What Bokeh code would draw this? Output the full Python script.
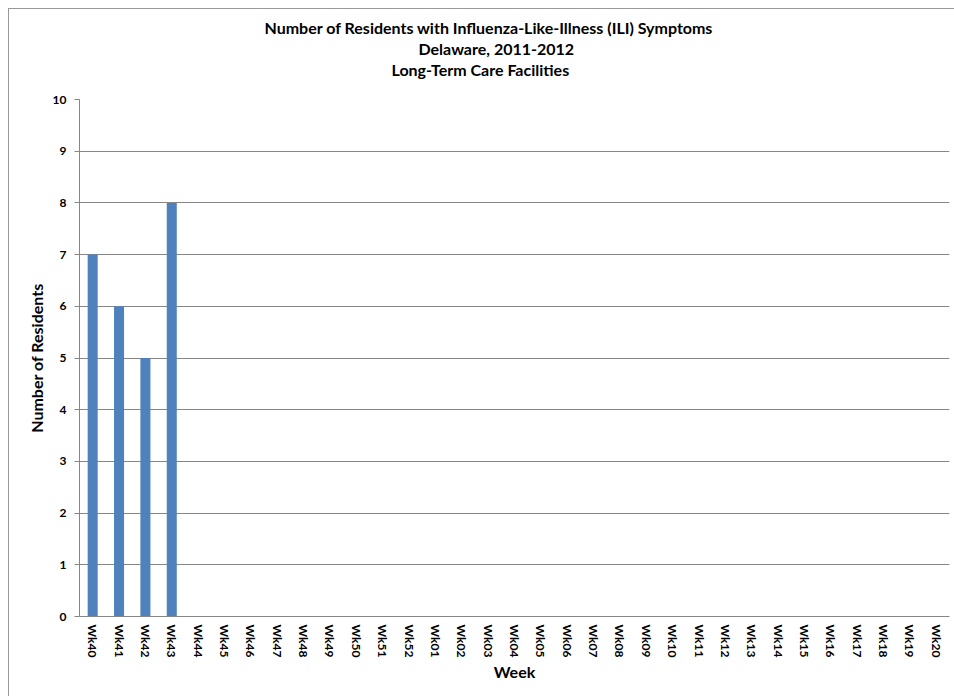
from bokeh.plotting import figure
from bokeh.models import ColumnDataSource, FactorRange, Range1d, SingleIntervalTicker, Title
from bokeh.embed import file_html
from bokeh.resources import INLINE

weeks = ["Wk40", "Wk41", "Wk42", "Wk43", "Wk44", "Wk45", "Wk46", "Wk47", "Wk48", "Wk49",
         "Wk50", "Wk51", "Wk52", "Wk01", "Wk02", "Wk03", "Wk04", "Wk05", "Wk06", "Wk07",
         "Wk08", "Wk09", "Wk10", "Wk11", "Wk12", "Wk13", "Wk14", "Wk15", "Wk16", "Wk17",
         "Wk18", "Wk19", "Wk20"]
residents = [7, 6, 5, 8] + [0] * 29

title_lines = ["Number of Residents with Influenza-Like-Illness (ILI) Symptoms",
               "Delaware, 2011-2012",
               "Long-Term Care Facilities"]

FONT = "Lato"
GRAY = "#868686"

src = ColumnDataSource(data=dict(week=weeks, n=residents))

p = figure(width=946, height=688, output_backend="svg", toolbar_location=None,
           x_range=FactorRange(factors=weeks, range_padding=0),
           y_range=Range1d(0, 10),
           min_border_left=70, min_border_right=6, min_border_top=90, min_border_bottom=81)
p.margin = (8, 0, 0, 8)
p.styles = {"border-left": "1px solid #999999", "border-top": "1px solid #999999"}

p.vbar(x="week", top="n", width=0.38, source=src, fill_color="#4F81BD", line_color=None)

# empty spacer panel between the frame and the title block
p.add_layout(Title(text=" ", standoff=0, text_font=FONT, text_font_size="16px"), "above")

# left offsets so that each line sits where it does in the original
title_offsets = [185, 339, 312]
for i in (2, 1, 0):
    p.add_layout(Title(text=title_lines[i], align="left", offset=title_offsets[i],
                       standoff=0,
                       text_font=FONT, text_font_size="16px", text_font_style="bold",
                       text_color="black"), "above")

p.outline_line_color = None
p.background_fill_color = "white"
p.border_fill_color = "white"

p.xgrid.grid_line_color = None
p.ygrid.grid_line_color = GRAY
p.ygrid.grid_line_width = 1

p.yaxis.ticker = SingleIntervalTicker(interval=1)
p.yaxis.minor_tick_line_color = None
p.yaxis.major_tick_out = 5
p.yaxis.major_tick_in = 0
p.yaxis.major_tick_line_color = GRAY
p.yaxis.axis_line_color = GRAY
p.yaxis.major_label_standoff = 8
p.yaxis.axis_label = "Number of Residents"
p.yaxis.axis_label_standoff = 4

p.xaxis.major_tick_out = 0
p.xaxis.major_tick_in = 0
p.xaxis.major_tick_line_color = None
p.xaxis.minor_tick_line_color = None
p.xaxis.axis_line_color = GRAY
p.xaxis.major_label_orientation = "vertical"
p.xaxis.major_label_standoff = 8
p.xaxis.axis_label = "Week"
p.xaxis.axis_label_standoff = 2

for ax in (p.xaxis, p.yaxis):
    ax.major_label_text_font = FONT
    ax.major_label_text_font_style = "bold"
    ax.major_label_text_color = "black"
    ax.axis_label_text_font = FONT
    ax.axis_label_text_font_size = "16px"
    ax.axis_label_text_font_style = "bold"
    ax.axis_label_text_color = "black"
p.yaxis.major_label_text_font_size = "12px"
p.xaxis.major_label_text_font_size = "12px"

open("out.html", "w").write(file_html(p, INLINE))
